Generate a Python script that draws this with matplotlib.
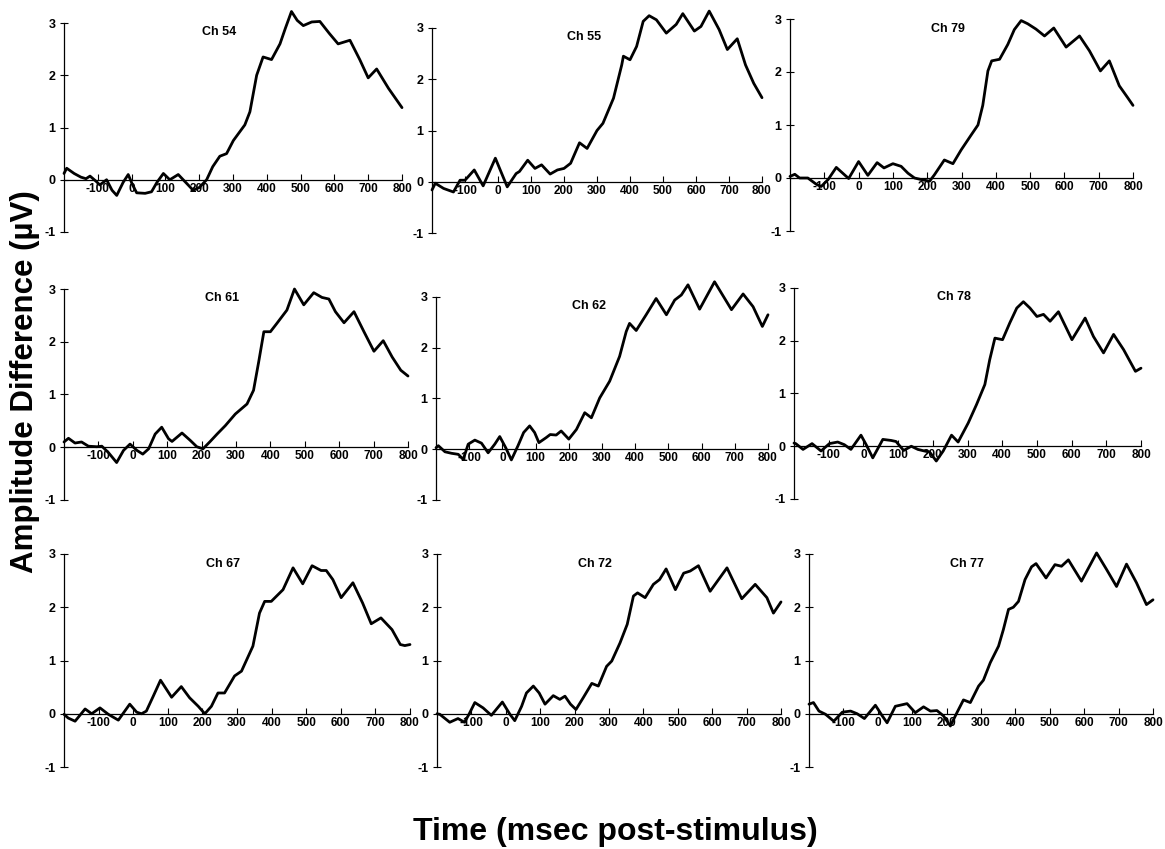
import matplotlib
matplotlib.use('Agg')
import matplotlib.pyplot as plt

plt.rcParams['font.family'] = ['Liberation Sans', 'DejaVu Sans']
plt.rcParams['axes.unicode_minus'] = False

# channel waveforms: time (ms) and amplitude difference (uV)
ch54_t = [-200, -192, -170, -150, -135, -123, -105, -94, -74, -58, -44, -25, -10, 3, 15, 40, 59, 75, 94, 113,
          138, 160, 182, 200, 222, 240, 261, 281, 301, 335, 350, 370, 389, 414, 439, 455, 473, 490, 508, 533,
          557, 585, 611, 646, 675, 700, 725, 760, 800]
ch54_v = [0.12, 0.22, 0.12, 0.05, 0.02, 0.07, -0.03, -0.1, 0.0, -0.2, -0.3, -0.05, 0.1, -0.1, -0.25, -0.26, -0.23, -0.05, 0.12, 0.0,
          0.1, -0.05, -0.2, -0.15, 0.0, 0.25, 0.45, 0.5, 0.75, 1.05, 1.3, 2.0, 2.35, 2.3, 2.6, 2.9, 3.22, 3.05, 2.95, 3.02,
          3.03, 2.8, 2.6, 2.67, 2.3, 1.95, 2.12, 1.75, 1.38]

ch55_t = [-200, -190, -165, -135, -115, -100, -72, -45, -8, 28, 55, 65, 90, 112, 132, 158, 180, 200, 220, 247,
          270, 300, 318, 350, 375, 380, 400, 420, 440, 458, 480, 510, 540, 560, 595, 615, 640, 670, 695, 725,
          750, 775, 800]
ch55_v = [-0.16, -0.03, -0.13, -0.2, 0.03, 0.03, 0.23, -0.08, 0.46, -0.1, 0.16, 0.2, 0.42, 0.26, 0.33, 0.15, 0.23, 0.26, 0.36, 0.76,
          0.65, 1.0, 1.14, 1.63, 2.28, 2.45, 2.38, 2.64, 3.13, 3.24, 3.16, 2.9, 3.07, 3.28, 2.94, 3.03, 3.33, 2.97, 2.58, 2.79,
          2.28, 1.92, 1.64]

ch79_t = [-200, -186, -172, -148, -123, -109, -89, -65, -29, 0, 27, 54, 74, 100, 124, 144, 163, 183, 207, 221,
          250, 275, 299, 328, 348, 362, 377, 388, 411, 435, 454, 474, 493, 517, 542, 569, 605, 644, 673, 705,
          731, 760, 784, 800]
ch79_v = [0.03, 0.07, 0.0, 0.0, -0.12, -0.16, -0.03, 0.2, -0.01, 0.31, 0.05, 0.29, 0.19, 0.27, 0.22, 0.09, 0.0, -0.03, -0.06, 0.06,
          0.34, 0.27, 0.53, 0.81, 1.0, 1.37, 2.02, 2.21, 2.24, 2.52, 2.8, 2.97, 2.91, 2.81, 2.68, 2.83, 2.47, 2.68, 2.4, 2.02,
          2.21, 1.74, 1.52, 1.37]

ch61_t = [-200, -187, -168, -149, -129, -105, -90, -71, -47, -27, -8, 12, 29, 46, 65, 84, 104, 114, 143, 167,
          186, 204, 225, 245, 269, 298, 332, 351, 366, 381, 400, 419, 448, 470, 497, 526, 550, 570, 589, 614,
          643, 672, 701, 728, 754, 779, 800]
ch61_v = [0.1, 0.17, 0.08, 0.1, 0.02, 0.01, 0.02, -0.1, -0.29, -0.06, 0.06, -0.06, -0.13, -0.03, 0.25, 0.38, 0.16, 0.11, 0.27, 0.13,
          0.01, -0.03, 0.11, 0.25, 0.41, 0.63, 0.82, 1.08, 1.62, 2.19, 2.19, 2.35, 2.6, 3.0, 2.7, 2.93, 2.84, 2.81, 2.57, 2.36,
          2.57, 2.19, 1.82, 2.02, 1.71, 1.46, 1.35]

ch62_t = [-200, -193, -173, -153, -133, -118, -103, -83, -63, -43, -23, -8, 10, 27, 47, 64, 82, 97, 110, 132,
          144, 162, 177, 200, 223, 248, 268, 293, 323, 353, 373, 383, 403, 433, 463, 494, 519, 539, 559, 594,
          639, 690, 725, 755, 783, 800]
ch62_v = [0.03, 0.07, -0.05, -0.08, -0.1, -0.2, 0.1, 0.18, 0.12, -0.07, 0.1, 0.25, 0.03, -0.21, 0.07, 0.33, 0.46, 0.33, 0.13, 0.23,
          0.29, 0.28, 0.36, 0.2, 0.39, 0.72, 0.62, 1.01, 1.34, 1.83, 2.32, 2.48, 2.34, 2.65, 2.97, 2.65, 2.94, 3.04, 3.24, 2.76,
          3.3, 2.75, 3.06, 2.81, 2.42, 2.65]

ch78_t = [-200, -195, -174, -148, -122, -98, -74, -55, -36, -7, 8, 27, 56, 80, 94, 116, 138, 157, 176, 191,
          210, 230, 254, 273, 302, 326, 350, 364, 379, 401, 422, 442, 461, 480, 500, 519, 538, 562, 601, 639,
          663, 692, 721, 750, 784, 800]
ch78_v = [0.06, 0.05, -0.06, 0.05, -0.09, 0.05, 0.08, 0.03, -0.06, 0.21, 0.03, -0.22, 0.13, 0.11, 0.09, -0.08, 0.0, -0.06, -0.09, -0.11,
          -0.28, -0.09, 0.21, 0.08, 0.44, 0.79, 1.17, 1.64, 2.05, 2.02, 2.34, 2.62, 2.74, 2.62, 2.46, 2.5, 2.37, 2.55, 2.02, 2.43,
          2.08, 1.77, 2.12, 1.83, 1.42, 1.48]

ch67_t = [-200, -188, -168, -139, -120, -96, -72, -43, -10, 10, 24, 38, 58, 79, 96, 111, 139, 163, 188, 207,
          226, 245, 264, 293, 313, 346, 365, 380, 399, 433, 462, 490, 517, 543, 558, 577, 601, 635, 663, 688,
          716, 748, 772, 785, 800]
ch67_v = [-0.01, -0.08, -0.14, 0.09, 0.0, 0.11, -0.01, -0.12, 0.18, 0.03, 0.0, 0.05, 0.33, 0.63, 0.46, 0.31, 0.51, 0.3, 0.14, 0.0,
          0.14, 0.39, 0.39, 0.71, 0.8, 1.27, 1.89, 2.11, 2.11, 2.33, 2.74, 2.44, 2.78, 2.69, 2.69, 2.52, 2.18, 2.46, 2.08, 1.69,
          1.8, 1.58, 1.3, 1.28, 1.3]

ch72_t = [-200, -192, -163, -139, -120, -107, -90, -66, -42, -10, 12, 26, 46, 60, 80, 97, 114, 138, 157, 172,
          188, 204, 225, 250, 269, 293, 308, 332, 353, 371, 383, 405, 429, 447, 466, 493, 517, 536, 560, 594,
          643, 686, 725, 759, 778, 800]
ch72_v = [0.0, -0.01, -0.16, -0.09, -0.16, -0.01, 0.21, 0.11, -0.03, 0.22, -0.01, -0.13, 0.14, 0.39, 0.52, 0.39, 0.18, 0.34, 0.27, 0.33,
          0.18, 0.08, 0.3, 0.57, 0.52, 0.89, 0.99, 1.33, 1.68, 2.21, 2.27, 2.18, 2.43, 2.52, 2.72, 2.33, 2.64, 2.68, 2.78, 2.3,
          2.74, 2.16, 2.43, 2.18, 1.89, 2.1]

ch77_t = [-200, -187, -171, -152, -128, -103, -79, -60, -39, -7, 13, 27, 51, 85, 109, 133, 153, 172, 191, 211,
          230, 249, 269, 293, 307, 327, 351, 365, 380, 394, 409, 428, 447, 460, 489, 515, 534, 554, 592, 636,
          665, 694, 723, 752, 781, 800]
ch77_v = [0.18, 0.21, 0.05, -0.01, -0.14, 0.03, 0.05, 0.0, -0.09, 0.16, -0.04, -0.17, 0.14, 0.19, 0.02, 0.13, 0.05, 0.06, -0.04, -0.23,
          0.02, 0.26, 0.21, 0.52, 0.63, 0.96, 1.27, 1.58, 1.96, 2.0, 2.11, 2.52, 2.76, 2.82, 2.55, 2.8, 2.77, 2.89, 2.49, 3.02,
          2.71, 2.39, 2.81, 2.46, 2.05, 2.14]

channels = ['Ch 54', 'Ch 55', 'Ch 79', 'Ch 61', 'Ch 62', 'Ch 78', 'Ch 67', 'Ch 72', 'Ch 77']
series = [(ch54_t, ch54_v), (ch55_t, ch55_v), (ch79_t, ch79_v),
          (ch61_t, ch61_v), (ch62_t, ch62_v), (ch78_t, ch78_v),
          (ch67_t, ch67_v), (ch72_t, ch72_v), (ch77_t, ch77_v)]

x_ticks = [-100, 0, 100, 200, 300, 400, 500, 600, 700, 800]
y_ticks = [-1, 0, 1, 2, 3]

# panel boxes in pixels: left spine, x=800 end, y=3 top, y=-1 bottom
boxes = [(64, 402, 23, 232), (432, 762, 28, 233), (790, 1133, 19, 231),
         (64, 408, 289, 500), (436, 768, 297, 500), (794, 1141, 288, 499),
         (64, 410, 554, 767), (437, 781, 554, 767), (809, 1153, 554, 767)]

W, H = 1165, 849


def panel(fig, box, t, v, name):
    left, right, top, bottom = box
    ax = fig.add_axes([left / W, 1 - bottom / H, (right - left) / W, (bottom - top) / H])
    ax.plot(t, v, color='black', lw=2.0, clip_on=False,
            solid_joinstyle='round', solid_capstyle='round')
    ax.set_xlim(-200, 800)
    ax.set_ylim(-1, 3)
    ax.spines['top'].set_visible(False)
    ax.spines['right'].set_visible(False)
    ax.spines['bottom'].set_position(('data', 0))
    ax.spines['left'].set_linewidth(0.9)
    ax.spines['bottom'].set_linewidth(0.9)
    ax.set_xticks(x_ticks)
    ax.set_yticks(y_ticks)
    ax.tick_params(axis='x', direction='in', length=4, width=0.8, pad=2, labelsize=8.5)
    ax.tick_params(axis='y', direction='inout', length=6, width=0.8, pad=3, labelsize=9)
    for lab in ax.get_xticklabels() + ax.get_yticklabels():
        lab.set_fontweight('bold')
    ax.patch.set_visible(False)
    ax.text(260, 2.82, name, ha='center', va='center', fontsize=9, fontweight='bold')
    return ax


fig = plt.figure(figsize=(W / 100, H / 100), dpi=100)
for box, (t, v), name in zip(boxes, series, channels):
    panel(fig, box, t, v, name)

fig.text(25 / W, 1 - 382 / H, 'Amplitude Difference (\u00b5V)', rotation=90,
         ha='center', va='center', fontsize=22.5, fontweight='bold')
fig.text(615 / W, 9 / H, 'Time (msec post-stimulus)', ha='center', va='baseline',
         fontsize=23, fontweight='bold')

fig.savefig('out.png', dpi=100)
